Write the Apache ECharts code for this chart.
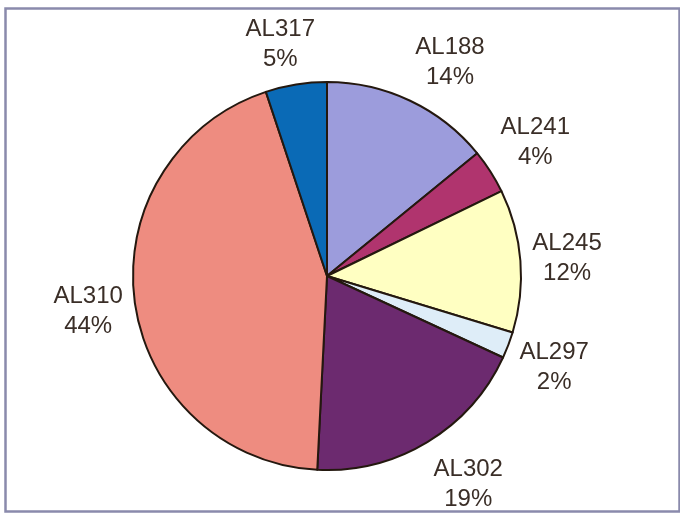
<!DOCTYPE html>
<html>
<head>
<meta charset="utf-8">
<script src="https://cdn.jsdelivr.net/npm/echarts@6/dist/echarts.min.js"></script>
<style>
html,body{margin:0;padding:0;background:#fff;}
#chart{width:680px;height:513px;}
</style>
</head>
<body>
<div id="chart"></div>
<script>
const categories = ['AL188', 'AL241', 'AL245', 'AL297', 'AL302', 'AL310', 'AL317'];
const values = [14.1, 3.7, 11.9, 2.2, 18.9, 44.1, 5.1];
const colors = ['#9c9cdc', '#b0346e', '#ffffc2', '#deedf8', '#6c2a6f', '#ee8c80', '#0a6ab6'];

const CX = 327, CY = 276, R = 194, LABEL_GAP = 12;
const total = values.reduce((a, b) => a + b, 0);
function midAngle(i) {
  let before = 0;
  for (let k = 0; k < i; k++) before += values[k];
  return (before + values[i] / 2) / total * 2 * Math.PI;
}

const chart = echarts.init(document.getElementById('chart'), null, {renderer: 'canvas'});
chart.setOption({
  backgroundColor: '#ffffff',
  animation: false,
  graphic: [{
    type: 'rect',
    shape: {x: 5.5, y: 8.5, width: 674, height: 503},
    style: {fill: 'none', stroke: '#8a8aac', lineWidth: 2.5},
    z: 0
  }],
  series: [{
    type: 'pie',
    center: [CX, CY],
    radius: R,
    startAngle: 90,
    clockwise: true,
    avoidLabelOverlap: false,
    percentPrecision: 0,
    data: categories.map((c, i) => ({
      name: c, value: values[i],
      itemStyle: {color: colors[i]}
    })),
    itemStyle: {borderColor: '#24180f', borderWidth: 2},
    emphasis: {disabled: true},
    label: {
      show: true,
      position: 'outside',
      formatter: '{b}\n{d}%',
      fontFamily: 'Liberation Sans, Arial, sans-serif',
      fontSize: 24,
      lineHeight: 30,
      color: '#3a2e27'
    },
    labelLine: {show: false},
    labelLayout: function (params) {
      const a = midAngle(params.dataIndex);
      const s = Math.sin(a), c = Math.cos(a);
      const w = params.labelRect.width, h = params.labelRect.height;
      const d = R + LABEL_GAP;
      const px = CX + d * s, py = CY - d * c;
      const ox = (w / 2) * Math.sign(s) * Math.min(1, 2.5 * Math.abs(s));
      const oy = -(h / 2) * Math.sign(c) * Math.min(1, 1.5 * Math.abs(c));
      return {x: px + ox, y: py + oy + 2, align: 'center', verticalAlign: 'middle'};
    }
  }]
});
</script>
</body>
</html>
